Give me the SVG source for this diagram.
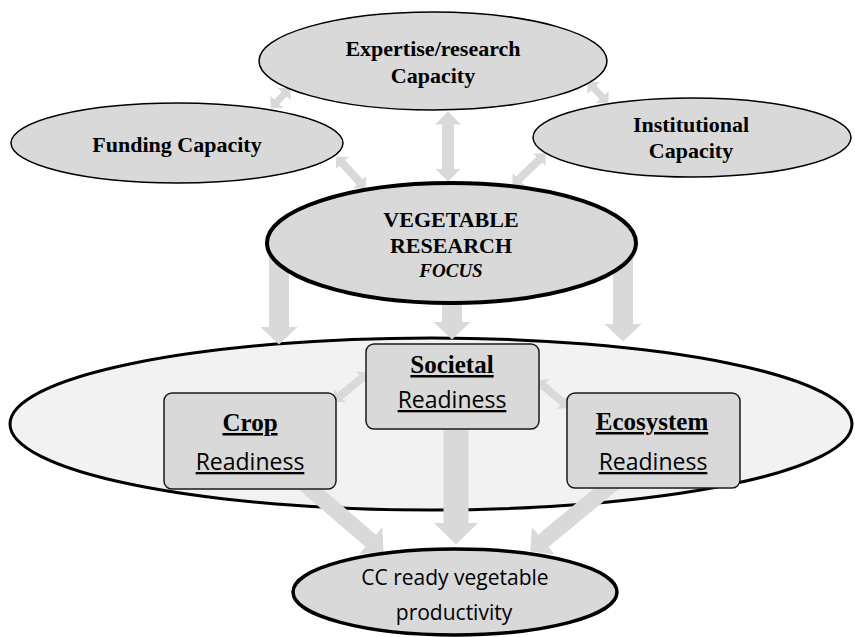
<svg xmlns="http://www.w3.org/2000/svg" width="855" height="637" viewBox="0 0 855 637">
  <style>
    .cap { fill: #d9d9d9; stroke: #000; stroke-width: 1.5; }
    .core { fill: #d9d9d9; stroke: #000; stroke-width: 4; }
    .zone { fill: #f2f2f2; stroke: #000; stroke-width: 3; }
    .box { fill: #d9d9d9; stroke: #1a1a1a; stroke-width: 1.5; }
    .goal { fill: #d9d9d9; stroke: #000; stroke-width: 3.5; }
    .flow { stroke: #d9d9d9; fill: none; stroke-linecap: butt; }
    .serif { font-family: "Liberation Serif", "Times New Roman", serif; font-weight: bold; fill: #000; text-anchor: middle; }
    .sans { font-family: "Open Sans", "Noto Sans", sans-serif; fill: #000; text-anchor: middle; }
    .ul { text-decoration: underline; }
  </style>
  <defs>
    <marker id="m-vert" markerUnits="userSpaceOnUse" viewBox="0 0 18 38" markerWidth="18" markerHeight="38" refX="0.5" refY="19" orient="auto">
      <path d="M0,0 L18,19 L0,38 Z" fill="#d9d9d9"/>
    </marker>
    <marker id="m-big" markerUnits="userSpaceOnUse" viewBox="0 0 22 45" markerWidth="22" markerHeight="45" refX="0.5" refY="22.5" orient="auto">
      <path d="M0,0 L22,22.5 L0,45 Z" fill="#d9d9d9"/>
    </marker>
    <marker id="m-diag" markerUnits="userSpaceOnUse" viewBox="0 0 17 36" markerWidth="17" markerHeight="36" refX="0.5" refY="18" orient="auto">
      <path d="M0,0 L17,18 L0,36 Z" fill="#d9d9d9"/>
    </marker>
    <marker id="m-mid" markerUnits="userSpaceOnUse" viewBox="0 0 13 26" markerWidth="13" markerHeight="26" refX="0.5" refY="13" orient="auto-start-reverse">
      <path d="M0,0 L13,13 L0,26 Z" fill="#d9d9d9"/>
    </marker>
    <marker id="m-small" markerUnits="userSpaceOnUse" viewBox="0 0 9 18" markerWidth="9" markerHeight="18" refX="0.5" refY="9" orient="auto-start-reverse">
      <path d="M0,0 L9,9 L0,18 Z" fill="#d9d9d9"/>
    </marker>
  </defs>

  <!-- readiness zone (drawn first so the flows sit over its outline) -->
  <g id="readiness-zone">
    <ellipse class="zone" cx="431" cy="424" rx="421" ry="86"/>
  </g>

  <!-- connectors -->
  <g id="connectors">
    <!-- capacities <-> focus and each other -->
    <line class="flow" x1="276.5" y1="102.2" x2="284.5" y2="93.8" stroke-width="7" marker-start="url(#m-small)" marker-end="url(#m-small)"/>
    <line class="flow" x1="593.5" y1="87.8" x2="602.5" y2="97.2" stroke-width="7" marker-start="url(#m-small)" marker-end="url(#m-small)"/>
    <line class="flow" x1="448" y1="124" x2="448" y2="169" stroke-width="12" marker-start="url(#m-mid)" marker-end="url(#m-mid)"/>
    <line class="flow" x1="342.1" y1="162.7" x2="359.9" y2="182.3" stroke-width="8" marker-start="url(#m-small)" marker-end="url(#m-small)"/>
    <line class="flow" x1="518.5" y1="179.7" x2="539.5" y2="159.3" stroke-width="8" marker-start="url(#m-small)" marker-end="url(#m-small)"/>
    <!-- focus -> readiness zone -->
    <line class="flow" x1="279" y1="250" x2="279" y2="327" stroke-width="20" marker-end="url(#m-vert)"/>
    <line class="flow" x1="452" y1="290" x2="452" y2="322" stroke-width="20" marker-end="url(#m-vert)"/>
    <line class="flow" x1="623" y1="250" x2="623" y2="324" stroke-width="20" marker-end="url(#m-vert)"/>
    <!-- between readiness boxes -->
    <line class="flow" x1="339.9" y1="396.2" x2="362.1" y2="377.8" stroke-width="8" marker-start="url(#m-small)" marker-end="url(#m-small)"/>
    <line class="flow" x1="543" y1="385.7" x2="563" y2="402.3" stroke-width="8" marker-start="url(#m-small)" marker-end="url(#m-small)"/>
    <!-- readiness -> productivity -->
    <line class="flow" x1="300" y1="480" x2="371" y2="541" stroke-width="16" marker-end="url(#m-diag)"/>
    <line class="flow" x1="456" y1="420" x2="456" y2="523" stroke-width="25" marker-end="url(#m-big)"/>
    <line class="flow" x1="617" y1="480" x2="543" y2="541" stroke-width="16" marker-end="url(#m-diag)"/>
  </g>

  <g id="expertise">
    <ellipse class="cap" cx="433" cy="61" rx="174" ry="49"/>
    <text class="serif" x="433" y="56" font-size="22">Expertise/research</text>
    <text class="serif" x="433" y="83" font-size="22">Capacity</text>
  </g>

  <g id="funding">
    <ellipse class="cap" cx="177" cy="143" rx="166" ry="40"/>
    <text class="serif" x="177" y="152" font-size="22">Funding Capacity</text>
  </g>

  <g id="institutional">
    <ellipse class="cap" cx="692" cy="137.5" rx="159" ry="39.5"/>
    <text class="serif" x="691" y="132" font-size="22">Institutional</text>
    <text class="serif" x="691" y="158" font-size="22">Capacity</text>
  </g>

  <g id="research-focus">
    <ellipse class="core" cx="451.5" cy="243" rx="184.5" ry="60"/>
    <text class="serif" x="451" y="227" font-size="22">VEGETABLE</text>
    <text class="serif" x="451" y="253" font-size="22">RESEARCH</text>
    <text class="serif" x="451" y="277" font-size="19" font-style="italic">FOCUS</text>
  </g>

  <g id="crop">
    <rect class="box" x="164" y="393" width="172" height="96" rx="8"/>
    <text class="serif ul" x="250" y="431" font-size="25">Crop</text>
    <text class="sans ul" x="250" y="470" font-size="23">Readiness</text>
  </g>

  <g id="societal">
    <rect class="box" x="366" y="344" width="173" height="85" rx="8"/>
    <text class="serif ul" x="452" y="373" font-size="25">Societal</text>
    <text class="sans ul" x="452" y="408" font-size="23">Readiness</text>
  </g>

  <g id="ecosystem">
    <rect class="box" x="567" y="393" width="173" height="95" rx="8"/>
    <text class="serif ul" x="652" y="430" font-size="25">Ecosystem</text>
    <text class="sans ul" x="653" y="470" font-size="23">Readiness</text>
  </g>

  <g id="productivity">
    <ellipse class="goal" cx="455" cy="592" rx="162" ry="43"/>
    <text class="sans" x="455" y="585" font-size="21">CC ready vegetable</text>
    <text class="sans" x="454" y="620" font-size="21">productivity</text>
  </g>
</svg>
